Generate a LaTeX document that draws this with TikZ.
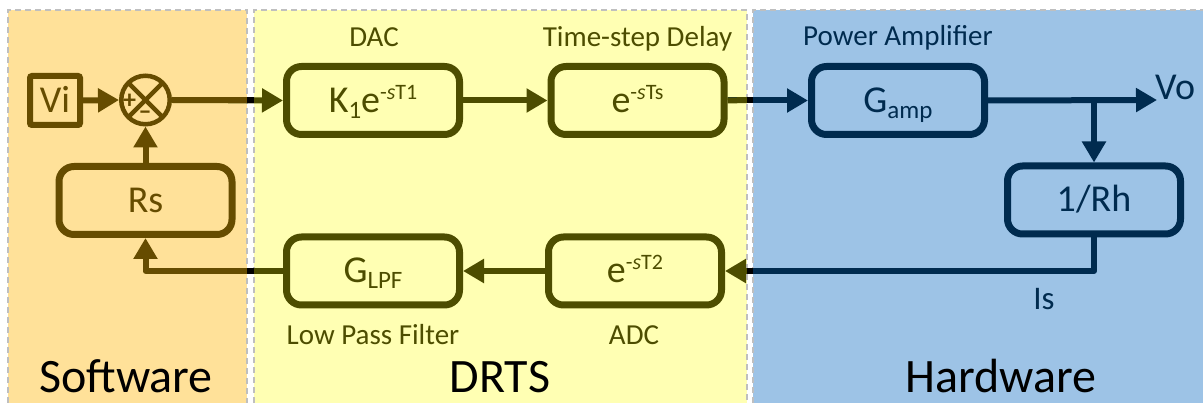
\documentclass[tikz,border=0pt]{standalone}
\usepackage{fontspec}
\setmainfont{Carlito}
\usetikzlibrary{arrows.meta}
\definecolor{swfill}{HTML}{FFE199}
\definecolor{drfill}{HTML}{FFFFB3}
\definecolor{hwfill}{HTML}{9DC3E6}
\definecolor{swl}{HTML}{664C00}
\definecolor{drl}{HTML}{4D4D00}
\definecolor{hwl}{HTML}{002B4F}
\definecolor{panelb}{HTML}{BFBFBF}
\newcommand{\myup}[1]{\raisebox{13pt}{\fontsize{22}{22}\selectfont #1}}
\newcommand{\mydn}[1]{\raisebox{-6pt}{\fontsize{25}{25}\selectfont #1}}
\begin{document}
\begin{tikzpicture}[x=1pt,y=-1pt,
  blockbox/.style={draw, line width=7pt, rounded corners=15pt, minimum width=173pt, minimum height=68pt, inner sep=0pt, text height=24pt, text depth=0pt, font=\fontsize{38}{40}\selectfont},
  conn/.style={line width=6pt, line join=round},
  tip/.style={-{Triangle[length=21pt,width=23pt]}},
  lbl/.style={anchor=base, inner sep=0pt, font=\fontsize{29}{31}\selectfont},
  big/.style={anchor=base, inner sep=0pt, font=\fontsize{48}{50}\selectfont},
  sign/.style={text=swl, inner sep=0pt, font=\fontsize{26}{26}\selectfont\bfseries},
  panel/.style={draw=panelb, line width=1.3pt, dash pattern=on 6pt off 4pt}]
\useasboundingbox (0,0) rectangle (1203,403);
% panels
\fill[swfill] (8,10) rectangle (247,403);
\draw[panel] (8,403) -- (8,10) -- (247,10) -- (247,403);
\fill[drfill] (254,10) rectangle (747,403);
\draw[panel] (254,403) -- (254,10) -- (747,10) -- (747,403);
\fill[hwfill] (753,10) rectangle (1203,403);
\draw[panel] (753,403) -- (753,10) -- (1203,10);
\node[big] (swt) at (126,393) {Software};
\node[big] (drt) at (500,393) {DRTS};
\node[big] (hwt) at (1001,393) {Hardware};
% gap coordinates
\coordinate (g1a) at (247,100); \coordinate (g1b) at (254,100);
\coordinate (g2a) at (747,100); \coordinate (g2b) at (753,100);
\coordinate (g3a) at (747,271); \coordinate (g3b) at (753,271);
\coordinate (g4a) at (247,271); \coordinate (g4b) at (254,271);
% software
\node[draw=swl, text=swl, line width=6pt, rounded corners=2pt, minimum width=50pt, minimum height=49pt, inner sep=0pt, text height=24pt, text depth=0pt, font=\fontsize{38}{40}\selectfont] (vi) at (55,100.5) {Vi};
\node[draw=swl, circle, line width=4.5pt, minimum size=48.5pt, inner sep=0pt] (sum) at (145.5,100) {};
\draw[swl, line width=4.5pt] (sum.center) ++(45:23.5) -- ++(225:47);
\draw[swl, line width=4.5pt] (sum.center) ++(135:23.5) -- ++(-45:47);
\node[sign] (plus) at (129.5,101.5) {+};
\node[sign] (minus) at (145,115.5) {–};
\node[blockbox, draw=swl, text=swl] (rs) at (145.5,200.5) {Rs};
% DRTS
\node[blockbox, draw=drl, text=drl] (k1) at (373,100.5) {K\mydn{1}e\myup{-\textit{s}T1}};
\node[blockbox, draw=drl, text=drl] (ts) at (637.5,100.5) {e\myup{-\textit{s}Ts}};
\node[blockbox, draw=drl, text=drl] (lpf) at (373,271) {G\mydn{LPF}};
\node[blockbox, draw=drl, text=drl] (adc) at (635,271) {e\myup{-\textit{s}T2}};
\node[lbl, text=drl] (dacl) at (374,47) {DAC};
\node[lbl, text=drl] (tsl) at (637.5,47) {Time-step Delay};
\node[lbl, text=drl] (lpfl) at (373,345) {Low Pass Filter};
\node[lbl, text=drl] (adcl) at (634,345) {ADC};
% hardware
\node[blockbox, draw=hwl, text=hwl] (gamp) at (898,100.5) {G\mydn{amp}};
\node[blockbox, draw=hwl, text=hwl] (rh) at (1094,200) {1/Rh};
\node[lbl, text=hwl] (pal) at (898,46) {Power Amplifier};
\node[anchor=base west, inner sep=0pt, text=hwl, font=\fontsize{38}{40}\selectfont] (vo) at (1155,100) {Vo};
\node[anchor=base, inner sep=0pt, text=hwl, font=\fontsize{33}{35}\selectfont] (isl) at (1044,310) {Is};
\coordinate (voend) at (1157,100);
\coordinate (br) at (1094,100);
% connectors
\draw[conn, tip, swl] (vi.east) -- (sum.west);
\draw[conn, tip, drl] (sum.east) -- (k1.west);
\draw[conn, swl] (sum.east) -- (g1a);
\draw[conn, black] (g1a) -- (g1b);
\draw[conn, tip, drl] (k1.east) -- (ts.west);
\draw[conn, tip, hwl] (ts.east) -- (gamp.west);
\draw[conn, drl] (ts.east) -- (g2a);
\draw[conn, black] (g2a) -- (g2b);
\draw[conn, tip, hwl] (gamp.east) -- (voend);
\draw[conn, tip, hwl] (br) -- (rh.north);
\draw[conn, hwl] (rh.south) |- (g3b);
\draw[conn, black] (g3b) -- (g3a);
\draw[conn, tip, drl] (g3a) -- (adc.east);
\draw[conn, tip, drl] (adc.west) -- (lpf.east);
\draw[conn, drl] (lpf.west) -- (g4b);
\draw[conn, black] (g4b) -- (g4a);
\draw[conn, tip, swl] (g4a) -| (rs.south);
\draw[conn, tip, swl] (rs.north) -- (sum.south);
\end{tikzpicture}
\end{document}
